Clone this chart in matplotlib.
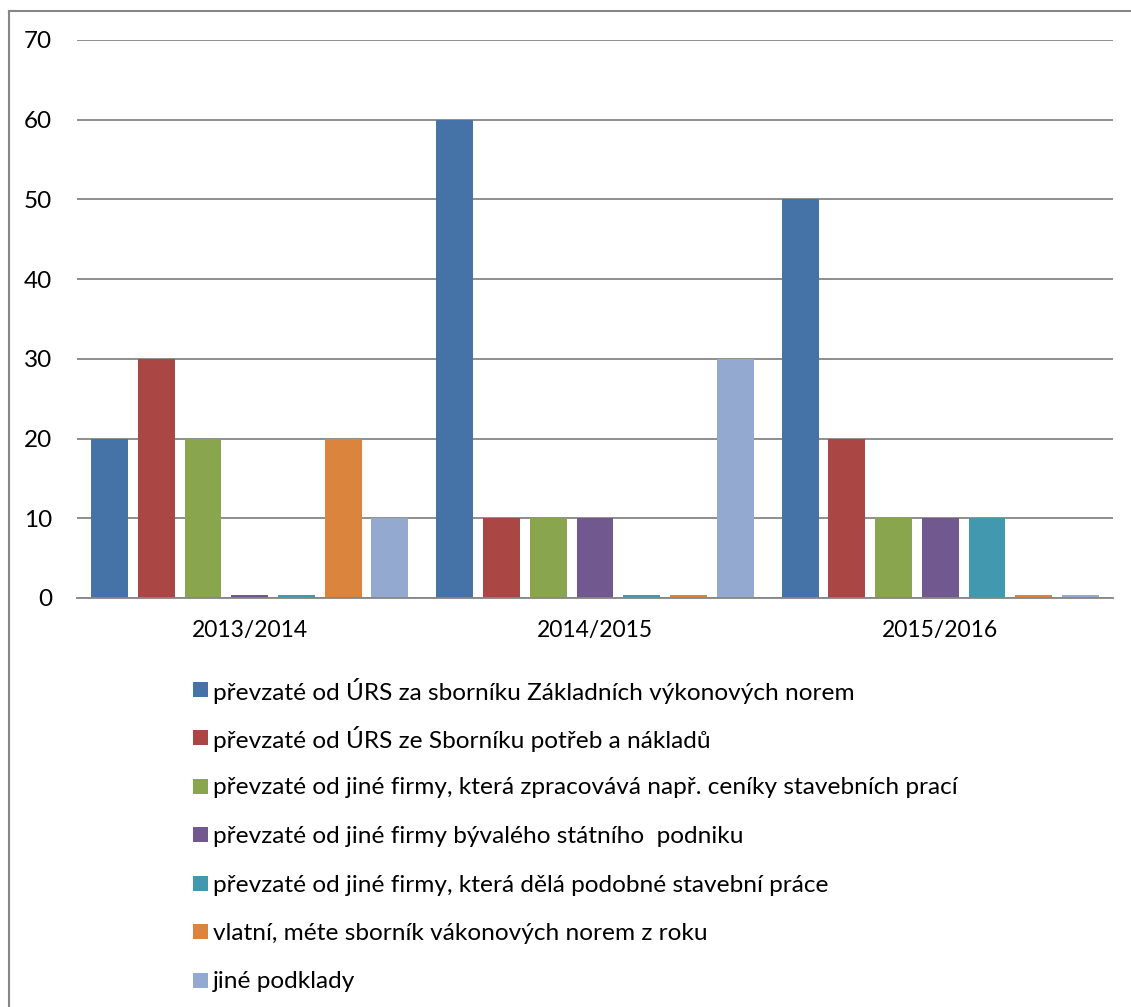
import matplotlib
matplotlib.use("Agg")
import matplotlib.pyplot as plt
from matplotlib.lines import Line2D
from matplotlib.patches import Rectangle
import numpy as np

categories = ["2013/2014", "2014/2015", "2015/2016"]
series_names = [
    "převzaté od ÚRS za sborníku Základních výkonových norem",
    "převzaté od ÚRS ze Sborníku potřeb a nákladů",
    "převzaté od jiné firmy, která zpracovává např. ceníky stavebních prací",
    "převzaté od jiné firmy bývalého státního  podniku",
    "převzaté od jiné firmy, která dělá podobné stavební práce",
    "vlatní, méte sborník vákonových norem z roku",
    "jiné podklady",
]
s1 = [20, 60, 50]
s2 = [30, 10, 20]
s3 = [20, 10, 10]
s4 = [0.4, 10, 10]
s5 = [0.4, 0.4, 10]
s6 = [20, 0.4, 0.4]
s7 = [10, 30, 0.4]
series_values = [s1, s2, s3, s4, s5, s6, s7]
colors = ["#4572A7", "#AA4643", "#89A54E", "#71588F", "#4198AF", "#DB843D", "#93A9CF"]
yticks = [0, 10, 20, 30, 40, 50, 60, 70]

plt.rcParams['font.family'] = ['Lato', 'DejaVu Sans']
W, H = 1131, 1007
fig = plt.figure(figsize=(W / 100, H / 100), dpi=100)
ax = fig.add_axes([77 / W, 1 - 598 / H, (1113 - 77) / W, (598 - 40) / H])

x = np.arange(len(categories))
pitch = 0.1352
bw = 0.107
for i, (vals, c) in enumerate(zip(series_values, colors)):
    ax.bar(x + (i - 3) * pitch, vals, width=bw, color=c, zorder=3)

ax.set_xlim(-0.5, 2.5)
ax.set_ylim(0, 70)
ax.set_yticks(yticks)
ax.set_yticklabels([str(v) for v in yticks], fontsize=17.5)
ax.set_xticks(x)
ax.set_xticklabels(categories, fontsize=16.5)
ax.tick_params(axis='y', length=0, pad=18)
ax.tick_params(axis='x', length=0, pad=16)
ax.yaxis.grid(True, color="#868686", linewidth=1.3, zorder=0)
for s in ["left", "right", "top"]:
    ax.spines[s].set_visible(False)
ax.spines["bottom"].set_color("#868686")
ax.spines["bottom"].set_linewidth(1.3)
ax.spines["bottom"].set_zorder(4)

# legend, drawn manually for even row spacing
lfs = 17.6
row0, rstep = 689, 48.5
for i, (name, c) in enumerate(zip(series_names, colors)):
    yc = row0 + i * rstep
    fig.add_artist(Rectangle((193 / W, 1 - (yc + 7.5) / H), 15 / W, 15 / H,
                             facecolor=c, edgecolor='none', transform=fig.transFigure))
    fig.text(213 / W, 1 - yc / H, name, fontsize=lfs, va='center_baseline', ha='left',
             color='black')

fig.add_artist(Line2D([8.5 / W, 8.5 / W], [0, 1 - 11 / H], color="#868686", linewidth=1.5,
                      transform=fig.transFigure))
fig.add_artist(Line2D([8.5 / W, 1], [1 - 11 / H, 1 - 11 / H], color="#868686", linewidth=1.5,
                      transform=fig.transFigure))

fig.savefig("out.png", dpi=100)
